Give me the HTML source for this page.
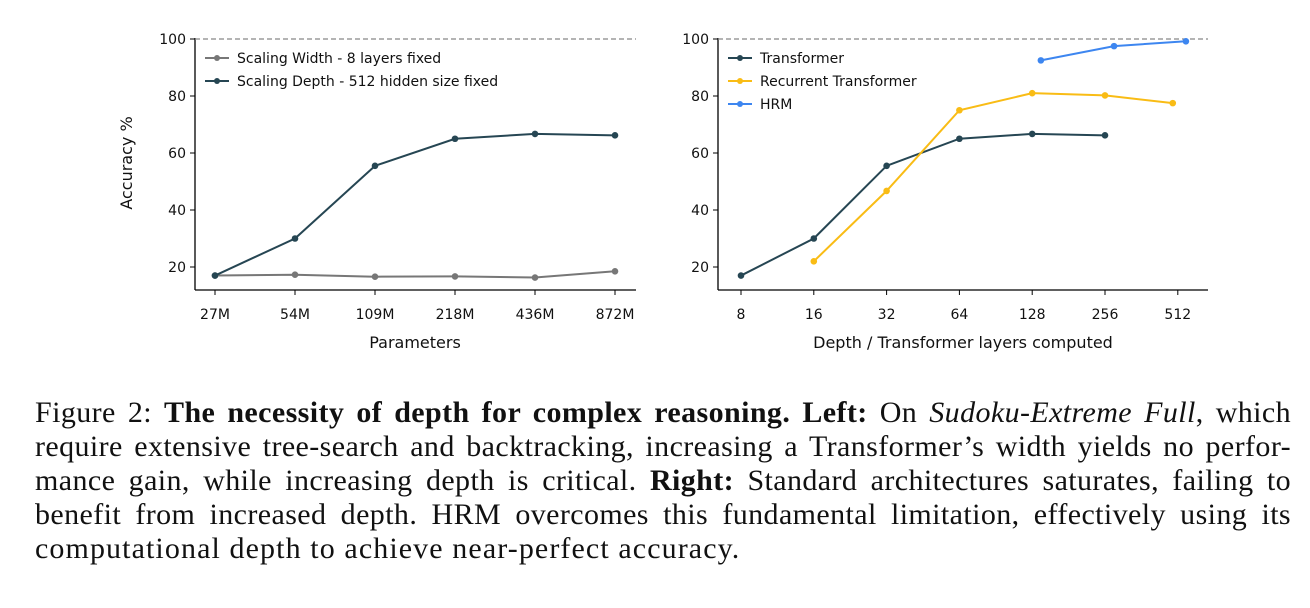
<!DOCTYPE html>
<html><head><meta charset="utf-8"><style>
body{margin:0;background:#fff;width:1310px;height:608px;overflow:hidden}
svg text{font-family:"DejaVu Sans",sans-serif;font-size:14px;fill:#111}
#cap{position:absolute;left:35px;top:396px;width:1256px;font-family:"Liberation Serif",serif;font-size:30px;line-height:34px;letter-spacing:0.4px;color:#111;white-space:nowrap}
#cap .l{text-align:justify;text-align-last:justify}
#cap .last{text-align:left;letter-spacing:1.1px}
</style></head><body>
<svg id="chart" width="1310" height="380" style="position:absolute;left:0;top:0"></svg>
<div id="cap">
<div class="l">Figure 2: <b>The necessity of depth for complex reasoning. Left:</b> On <i>Sudoku-Extreme Full</i>, which</div>
<div class="l">require extensive tree-search and backtracking, increasing a Transformer’s width yields no perfor-</div>
<div class="l">mance gain, while increasing depth is critical. <b>Right:</b> Standard architectures saturates, failing to</div>
<div class="l">benefit from increased depth. HRM overcomes this fundamental limitation, effectively using its</div>
<div class="last">computational depth to achieve near-perfect accuracy.</div>
</div>
<script>
const leftCats=["27M","54M","109M","218M","436M","872M"];
const widthVals=[17,17.3,16.6,16.7,16.3,18.5];
const depthVals=[17,30,55.5,65,66.7,66.2];
const yTicks=[20,40,60,80,100];
const rightTicks=[8,16,32,64,128,256,512];
const trX=[8,16,32,64,128,256];
const trY=[17,30,55.5,65,66.7,66.2];
const recX=[16,32,64,128,256,488];
const recY=[22,46.7,75,81,80.2,77.5];
const hrmX=[139,279,553];
const hrmY=[92.5,97.5,99.2];
const NS="http://www.w3.org/2000/svg";
const svg=document.getElementById('chart');
function el(t,a,p){const e=document.createElementNS(NS,t);for(const k in a)e.setAttribute(k,a[k]);(p||svg).appendChild(e);return e;}
const y=v=>39+(100-v)*2.85;
const xL=i=>215+i*80;
const xR=v=>741+(Math.log2(v)-3)*72.8;
function axes(x0,x1,name){
 const g=el('g',{});
 
 
 el('line',{x1:x0,y1:290,x2:x1,y2:290,stroke:'#000','stroke-width':1.3},g);
 el('line',{x1:x0,y1:38,x2:x0,y2:290,stroke:'#000','stroke-width':1.3},g);
 el('line',{x1:x0,y1:y(100),x2:x1,y2:y(100),stroke:'#888','stroke-width':1.2,'stroke-dasharray':'5,3'},g);
 yTicks.forEach(t=>{el('line',{x1:x0-5,y1:y(t),x2:x0,y2:y(t),stroke:'#000'},g);
  const tx=el('text',{x:x0-9,y:y(t)+5,'text-anchor':'end'},g);tx.textContent=t;});
 return g;
}
function series(xs,ys,fx,color,name){
 const g=el('g',{});
 
 
 el('polyline',{points:xs.map((v,i)=>fx(v,i)+','+y(ys[i])).join(' '),fill:'none',stroke:color,'stroke-width':2},g);
 xs.forEach((v,i)=>el('circle',{cx:fx(v,i),cy:y(ys[i]),r:3.3,fill:color},g));
}
function legend(x,yy,color,label,name){
 const g=el('g',{});
 
 
 el('line',{x1:x,y1:yy,x2:x+24,y2:yy,stroke:color,'stroke-width':2},g);
 el('circle',{cx:x+12,cy:yy,r:3,fill:color},g);
 const t=el('text',{x:x+32,y:yy+5},g);t.textContent=label;
}
const gl=axes(195,636,'left-axes');
leftCats.forEach((c,i)=>{el('line',{x1:xL(i),y1:290,x2:xL(i),y2:295,stroke:'#000'},gl);const t=el('text',{x:xL(i),y:319,'text-anchor':'middle'},gl);t.textContent=c;});
let t=el('text',{x:415,y:348,'text-anchor':'middle'});t.textContent='Parameters';t.style.fontSize='16px';

t=el('text',{x:0,y:0,'text-anchor':'middle',transform:'translate(132,163) rotate(-90)'});t.textContent='Accuracy %';
t.style.fontSize='16px';

series(leftCats,widthVals,(v,i)=>xL(i),'#777','scaling-width-line');
series(leftCats,depthVals,(v,i)=>xL(i),'#264653','scaling-depth-line');
legend(205,58,'#777','Scaling Width - 8 layers fixed','legend-scaling-width');
legend(205,81,'#264653','Scaling Depth - 512 hidden size fixed','legend-scaling-depth');
const gr=axes(718,1208,'right-axes');
rightTicks.forEach(v=>{el('line',{x1:xR(v),y1:290,x2:xR(v),y2:295,stroke:'#000'},gr);const t=el('text',{x:xR(v),y:319,'text-anchor':'middle'},gr);t.textContent=v;});
t=el('text',{x:963,y:348,'text-anchor':'middle'});t.textContent='Depth / Transformer layers computed';
t.style.fontSize='16px';

series(trX,trY,v=>xR(v),'#264653','transformer-line');
series(recX,recY,v=>xR(v),'#f9bc15','recurrent-transformer-line');
series(hrmX,hrmY,v=>xR(v),'#3d86f0','hrm-line');
legend(728,58,'#264653','Transformer','legend-transformer');
legend(728,81,'#f9bc15','Recurrent Transformer','legend-recurrent');
legend(728,104,'#3d86f0','HRM','legend-hrm');
</script>
</body></html>
